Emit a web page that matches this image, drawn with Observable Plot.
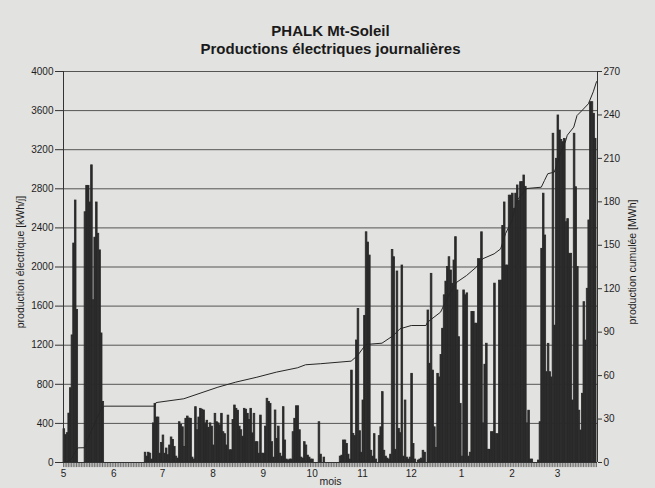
<!DOCTYPE html>
<html>
<head>
<meta charset="utf-8">
<script src="https://cdn.jsdelivr.net/npm/d3@7"></script>
<script src="https://cdn.jsdelivr.net/npm/@observablehq/plot@0.6"></script>
<style>
html, body { margin: 0; padding: 0; background: #e2e2e0; }
#chart { width: 655px; height: 488px; overflow: hidden; }
</style>
</head>
<body>
<div id="chart"></div>
<script>
// Daily electric production [kWh/day], one array per month (May .. March)
const may = [340, 280, 300, 500, 760, 1300, 2240, 2680, 1560, 0, 0, 0, 0, 2560, 2830, 2830, 2660, 3040, 1660, 2300, 2660, 2340, 2170, 1320, 620, 0, 0, 0, 0, 0, 0];
const jun = [0, 0, 0, 0, 0, 0, 0, 0, 0, 0, 0, 0, 0, 0, 0, 0, 0, 0, 0, 100, 60, 100, 90, 30, 400, 600, 460, 460, 90, 200];
const jul = [276, 90, 143, 75, 174, 256, 230, 160, 60, 40, 412, 385, 360, 160, 447, 470, 450, 447, 50, 30, 566, 330, 460, 549, 540, 532, 400, 427, 355, 400, 367];
const aug = [174, 498, 412, 400, 380, 498, 310, 290, 174, 480, 125, 125, 434, 583, 549, 530, 367, 330, 264, 549, 540, 498, 434, 549, 298, 498, 208, 208, 90, 480, 90];
const sep = [90, 367, 652, 620, 600, 208, 50, 532, 242, 367, 90, 60, 566, 225, 30, 20, 30, 30, 310, 447, 575, 575, 330, 50, 40, 208, 174, 70, 50, 30];
const oct = [30, 0, 0, 0, 412, 80, 0, 50, 0, 0, 0, 0, 0, 0, 0, 0, 0, 60, 70, 225, 225, 190, 80, 30, 940, 293, 270, 1248, 1570, 320, 100];
const nov = [634, 1500, 2355, 2250, 2117, 120, 60, 290, 30, 0, 270, 360, 720, 120, 60, 40, 30, 80, 2175, 2100, 130, 1954, 344, 300, 2015, 60, 634, 50, 30, 50];
const dec = [907, 190, 30, 0, 20, 30, 40, 120, 100, 0, 1555, 1010, 1930, 940, 360, 150, 907, 870, 1100, 1368, 1710, 1850, 2000, 2100, 1964, 1828, 2066, 2305, 1760, 1282, 600];
const jan = [60, 1760, 1710, 1730, 60, 100, 1540, 1540, 1420, 1420, 2080, 2080, 2355, 400, 1000, 1215, 130, 130, 310, 310, 1830, 290, 290, 1860, 1860, 2420, 2660, 2015, 2015, 2730, 2730];
const feb = [2750, 2595, 2750, 2834, 2680, 2868, 2868, 2936, 2820, 400, 530, 30, 30, 0, 0, 0, 20, 412, 2186, 2750, 2322, 924, 1214, 924, 870, 3363, 1400, 3107];
const mar = [3550, 3396, 3300, 3277, 3310, 2458, 2490, 2135, 2135, 634, 3363, 2816, 2000, 530, 327, 703, 1640, 1248, 1777, 2476, 3686, 3686, 3567, 3311];

const monthLabels = ["5", "6", "7", "8", "9", "10", "11", "12", "1", "2", "3"];

// Cumulative production [MWh] (day index from 1 May)
const cumulDays = [0, 3, 5, 8, 9, 13, 16, 20, 23, 25, 56, 57, 74, 95, 106, 119, 131, 144, 149, 158, 177, 181, 186, 196, 203, 207, 214, 223, 224, 232, 237, 242, 248, 254, 258, 265, 269, 272, 276, 279, 285, 294, 296, 298, 302, 304, 306, 309, 310, 314, 316, 319, 323, 326, 328];
const cumulMWh = [0, 0.9, 2.5, 8.8, 10.1, 10.2, 19, 29, 36.5, 38.9, 38.9, 41.4, 44, 52, 55.5, 58.9, 62.4, 65.4, 67.5, 68.2, 70, 73.9, 81.5, 82.4, 87.7, 92.3, 94.6, 94.6, 96.9, 103.8, 115.3, 124.5, 129.1, 134.9, 140.7, 144.1, 147.5, 158, 167.1, 181, 189.2, 190.1, 194.8, 199.4, 200.5, 207, 214, 222, 226, 231.6, 239.6, 243, 247.7, 256, 263];

const leftTicks = [0, 400, 800, 1200, 1600, 2000, 2400, 2800, 3200, 3600, 4000];
const rightTicks = [0, 30, 60, 90, 120, 150, 180, 210, 240, 270];

const titleText = "PHALK Mt-Soleil";
const subtitleText = "Productions électriques journalières";
const yLabelLeft = "production électrique [kWh/j]";
const yLabelRight = "production cumulée [MWh]";
const xLabel = "mois";

// ---- derived tables ----
const months = [may, jun, jul, aug, sep, oct, nov, dec, jan, feb, mar];
const daily = months.flat().map((v, i) => ({day: i, value: v}));
const nDays = daily.length;
const monthStarts = [0, ...d3.cumsum(months.map(m => m.length))].slice(0, months.length);
const labelByDay = new Map(monthStarts.map((d, i) => [d, monthLabels[i]]));
const cumul = cumulDays.map((d, i) => ({day: d, mwh: cumulMWh[i]}));
const k = 4000 / 270; // right axis (MWh) -> left axis (kWh/j)
const xMax = nDays + 0.6;
const dayTicks = d3.range(0, nDays + 1);
const tickDepth = -52; // daily ruler ticks drawn just below the zero line

const chart = Plot.plot({
  width: 655,
  height: 488,
  marginTop: 71,
  marginBottom: 26,
  marginLeft: 63,
  marginRight: 58,
  style: {background: "transparent", fontFamily: "'Liberation Sans', Arial, sans-serif", fontSize: "10px", color: "#1e1e1e"},
  x: {domain: [0, xMax], axis: null},
  y: {domain: [0, 4000], axis: null},
  marks: [
    Plot.ruleY(leftTicks, {stroke: "#555", strokeWidth: 1}),
    Plot.rect(daily, {x1: "day", x2: d => d.day + 1, y1: 0, y2: "value", fill: "#2a2a2a", stroke: "#2a2a2a", strokeWidth: 0.8, inset: 0}),
    Plot.line(cumul, {x: "day", y: d => d.mwh * k, stroke: "#262626", strokeWidth: 1}),
    Plot.ruleX([0, xMax], {stroke: "#333", strokeWidth: 1}),
    Plot.ruleX(dayTicks, {x: d => d, y1: 0, y2: tickDepth, stroke: "#555", strokeWidth: 0.8}),
    Plot.ruleY([0], {stroke: "#333", strokeWidth: 1}),
    Plot.axisY(leftTicks, {anchor: "left", tickSize: 8, tickPadding: 2, label: null, stroke: "#333", tickFormat: d => String(d)}),
    Plot.axisY(rightTicks.map(v => v * k), {anchor: "right", tickSize: 4, tickPadding: 2, label: null, stroke: "#333", tickFormat: v => String(Math.round(v / k))}),
    Plot.axisX(monthStarts, {anchor: "bottom", tickSize: 0, tickPadding: 7, label: null, tickFormat: d => labelByDay.get(d)}),
    Plot.text([titleText], {text: d => d, frameAnchor: "top", lineAnchor: "middle", textAnchor: "middle", dy: -40, fontSize: 15, fontWeight: "bold", fill: "#1a1a1a"}),
    Plot.text([subtitleText], {text: d => d, frameAnchor: "top", lineAnchor: "middle", textAnchor: "middle", dy: -22, fontSize: 15, fontWeight: "bold", fill: "#1a1a1a"}),
    Plot.text([yLabelLeft], {text: d => d, frameAnchor: "left", textAnchor: "middle", lineAnchor: "middle", rotate: -90, dx: -43, dy: -5, fontSize: 10.5, fill: "#1e1e1e"}),
    Plot.text([yLabelRight], {text: d => d, frameAnchor: "right", textAnchor: "middle", lineAnchor: "middle", rotate: -90, dx: 35, dy: -5, fontSize: 10.5, fill: "#1e1e1e"}),
    Plot.text([xLabel], {text: d => d, frameAnchor: "bottom", textAnchor: "middle", lineAnchor: "middle", dy: 19, fontSize: 10.5, fill: "#1e1e1e"})
  ]
});
document.getElementById("chart").appendChild(chart);
</script>
</body>
</html>
